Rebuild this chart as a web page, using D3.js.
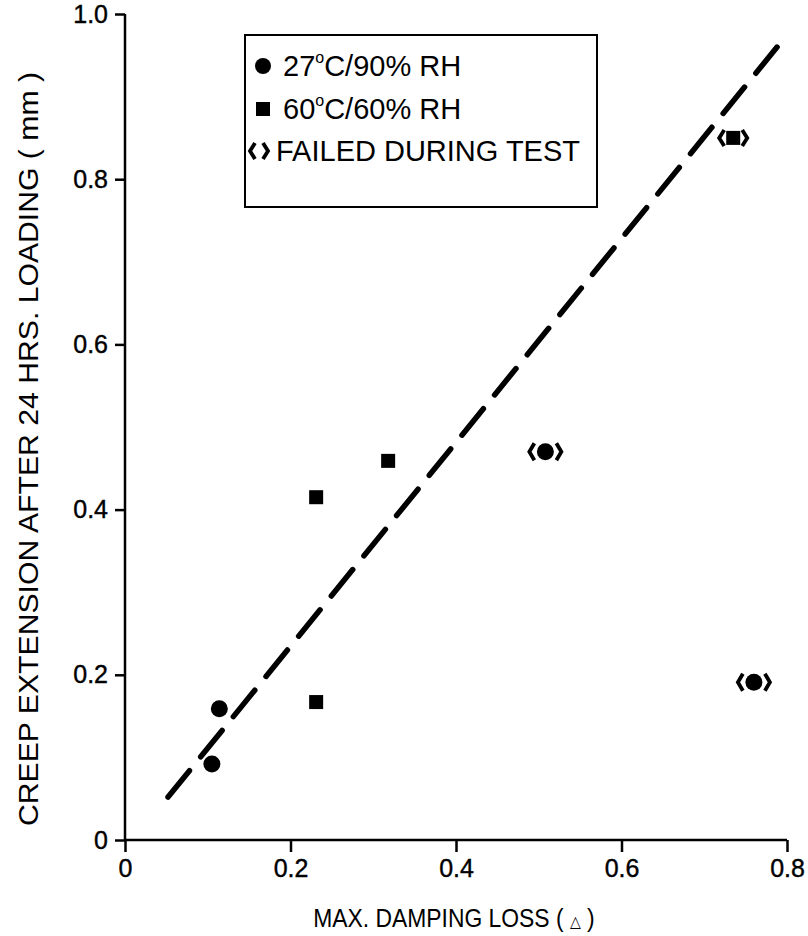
<!DOCTYPE html>
<html>
<head>
<meta charset="utf-8">
<script src="https://cdn.jsdelivr.net/npm/d3@7"></script>
<style>
  html, body { margin: 0; padding: 0; background: #fff; }
  svg { display: block; }
  text { font-family: "Liberation Sans", Arial, Helvetica, sans-serif; fill: #000; }
</style>
</head>
<body>
<svg id="chart" width="808" height="936"></svg>
<script>
// ---- data ----
const xTicks = [0, 0.2, 0.4, 0.6, 0.8];
const xTickLabels = ["0", "0.2", "0.4", "0.6", "0.8"];
const yTicks = [0, 0.2, 0.4, 0.6, 0.8, 1.0];
const yTickLabels = ["0", "0.2", "0.4", "0.6", "0.8", "1.0"];

// 27°C/90% RH (circles)
const circleX = [0.105, 0.114, 0.508, 0.760];
const circleY = [0.092, 0.159, 0.470, 0.191];
const circleFailed = [false, false, true, true];

// 60°C/60% RH (squares)
const squareX = [0.231, 0.231, 0.318, 0.735];
const squareY = [0.167, 0.415, 0.459, 0.850];
const squareFailed = [false, false, false, true];

// dashed trend line endpoints
const lineX = [0.052, 0.788];
const lineY = [0.052, 0.960];

const xTitle = "MAX. DAMPING LOSS ( ";
const yTitle = "CREEP EXTENSION AFTER 24 HRS. LOADING ( mm )";
const legendLabels = [["27", "o", "C/90% RH"], ["60", "o", "C/60% RH"], ["", "", "FAILED DURING TEST"]];

// ---- scales ----
const svg = d3.select("#chart");
const x = d3.scaleLinear().domain([0, 0.8]).range([125, 787]);
const y = d3.scaleLinear().domain([0, 1.0]).range([840, 14]);

// axes
const xAxis = d3.axisBottom(x).tickValues(xTicks).tickFormat((d, i) => xTickLabels[i]).tickSize(12).tickPadding(7);
const yAxis = d3.axisLeft(y).tickValues(yTicks).tickFormat((d, i) => yTickLabels[i]).tickSize(10).tickPadding(7);

const gx = svg.append("g").attr("transform", `translate(0,${y(0)})`).call(xAxis);
const gy = svg.append("g").attr("transform", `translate(${x(0)},0)`).call(yAxis);
[gx, gy].forEach(g => {
  g.select(".domain").attr("stroke", "#000").attr("stroke-width", 2.5);
  g.selectAll(".tick line").attr("stroke", "#000").attr("stroke-width", 2.5);
  g.selectAll(".tick text").style("font-family", '"Liberation Sans", Arial, sans-serif')
    .attr("font-size", 25).attr("fill", "#000").attr("stroke", "#000").attr("stroke-width", 0.4);
});
gx.select(".domain").attr("d", `M${x(0)},0H${x(0.8)}`);
gy.select(".domain").attr("d", `M0,${y(0)}V${y(1.0)}`);

// axis titles
const xt = svg.append("text")
  .attr("transform", `translate(${(x(0) + x(0.8)) / 2 - 2},927) scale(0.88,1)`)
  .attr("text-anchor", "middle").attr("font-size", 26);
xt.append("tspan").text(xTitle);
xt.append("tspan").text("\u25B3").attr("font-size", 16).style("font-family", '"DejaVu Sans", sans-serif');
xt.append("tspan").text(" )");

svg.append("text").attr("transform", `translate(38,${449}) rotate(-90)`)
  .attr("text-anchor", "middle").attr("font-size", 27)
  .attr("textLength", 754).attr("lengthAdjust", "spacingAndGlyphs").text(yTitle);

// dashed trend line
const line = d3.line().x(d => x(d[0])).y(d => y(d[1]));
svg.append("path").datum(lineX.map((v, i) => [v, lineY[i]]))
  .attr("d", line).attr("fill", "none").attr("stroke", "#000")
  .attr("stroke-width", 5.5).attr("stroke-linecap", "round").attr("stroke-dasharray", "34,17.8");

// failure brackets
function brackets(g, cx, cy, off, h) {
  const w = 5;
  [-1, 1].forEach(s => {
    g.append("path").attr("d", `M${cx + s * (off - w)},${cy - h}L${cx + s * off},${cy}L${cx + s * (off - w)},${cy + h}`)
      .attr("fill", "none").attr("stroke", "#000").attr("stroke-width", 3.8);
  });
}

const pts = svg.append("g");
circleX.forEach((v, i) => {
  pts.append("circle").attr("cx", x(v)).attr("cy", y(circleY[i])).attr("r", 8.5).attr("fill", "#000");
  if (circleFailed[i]) brackets(pts, x(v), y(circleY[i]), 16, 8.5);
});
squareX.forEach((v, i) => {
  const s = 14;
  pts.append("rect").attr("x", x(v) - s / 2).attr("y", y(squareY[i]) - s / 2).attr("width", s).attr("height", s).attr("fill", "#000");
  if (squareFailed[i]) brackets(pts, x(v), y(squareY[i]), 14, 8);
});

// legend
const lg = svg.append("g");
lg.append("rect").attr("x", 245).attr("y", 35).attr("width", 352).attr("height", 172)
  .attr("fill", "#fff").attr("stroke", "#000").attr("stroke-width", 2);
const rows = [66, 109, 151];
lg.append("circle").attr("cx", 263).attr("cy", rows[0]).attr("r", 8).attr("fill", "#000");
lg.append("rect").attr("x", 256).attr("y", rows[1] - 7).attr("width", 14).attr("height", 14).attr("fill", "#000");
brackets(lg, 259, rows[2], 9, 8);
legendLabels.forEach((lab, i) => {
  const t = lg.append("text").attr("x", i === 2 ? 276 : 283).attr("y", rows[i] + 10).attr("font-size", 29);
  if (lab[0]) {
    t.append("tspan").text(lab[0]);
    t.append("tspan").text(lab[1]).attr("font-size", 16).attr("dy", -13);
    t.append("tspan").text(lab[2]).attr("dy", 13);
  } else {
    t.text(lab[2]);
  }
});
</script>
</body>
</html>
